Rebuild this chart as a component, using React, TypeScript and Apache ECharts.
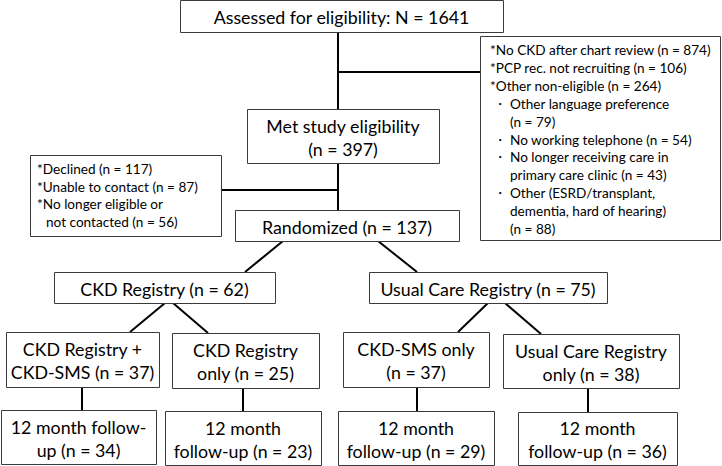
import React, { useEffect, useRef } from "react";
import * as echarts from "echarts";

// ---------- data ----------
const boxCounts = [1641, 397, 137, 62, 75, 37, 25, 37, 38, 34, 23, 29, 36];
const boxLabels = [
  "Assessed for eligibility: N = {n}",
  "Met study eligibility\n(n = {n})",
  "Randomized (n = {n})",
  "CKD Registry (n = {n})",
  "Usual Care Registry (n = {n})",
  "CKD Registry +\nCKD-SMS (n = {n})",
  "CKD Registry\nonly (n = {n})",
  "CKD-SMS only\n(n = {n})",
  "Usual Care Registry\nonly (n = {n})",
  "12 month follow-\nup (n = {n})",
  "12 month\nfollow-up (n = {n})",
  "12 month\nfollow-up (n = {n})",
  "12 month\nfollow-up (n = {n})",
];

// screening exclusions (right box)
const screenLines = [
  "*No CKD after chart review (n = 874)",
  "*PCP rec. not recruiting (n = 106)",
  "*Other non-eligible (n = 264)",
];
const otherNonEligibleLines = [
  ["Other language preference", "(n = 79)"],
  ["No working telephone (n = 54)"],
  ["No longer receiving care in", "primary care clinic (n = 43)"],
  ["Other (ESRD/transplant,", "dementia, hard of hearing)", "(n = 88)"],
];
// randomization exclusions (left box)
const declinedLines = [
  "*Declined (n = 117)",
  "*Unable to contact (n = 87)",
  "*No longer eligible or",
  " not contacted (n = 56)",
];

// ---------- layout ----------
const boxRects: number[][] = [
  [180, 0, 323, 32],
  [247, 109, 192, 54],
  [235, 210, 224, 31],
  [54, 272, 221, 31],
  [369, 272, 238, 31],
  [6, 332, 153, 55],
  [172, 333, 147, 55],
  [343, 332, 146, 55],
  [503, 334, 176, 54],
  [1, 410, 155, 54],
  [165, 411, 156, 54],
  [338, 411, 156, 54],
  [518, 412, 159, 53],
];
const connectors: number[][][] = [
  [[338, 32], [338, 109]],
  [[338, 72], [480, 72]],
  [[338, 163], [338, 210]],
  [[221, 190], [338, 190]],
  [[283, 241], [245, 272]],
  [[378, 241], [417, 272]],
  [[165, 303], [130, 332]],
  [[173, 303], [208, 333]],
  [[488, 303], [458, 332]],
  [[505, 303], [541, 334]],
  [[82, 387], [82, 410]],
  [[243, 388], [243, 411]],
  [[417, 387], [417, 411]],
  [[588, 388], [588, 412]],
];
const rightBox = [480, 36, 240, 204];
const leftBox = [30, 155, 191, 81];

const FONT = "Lato";
const MAIN_SIZE = 17.8;
const SIDE_SIZE = 13.6;

function buildGraphic() {
  const els: any[] = [];
  connectors.forEach((pts) => {
    els.push({
      type: "polyline",
      shape: { points: pts },
      style: { stroke: "#000", lineWidth: 2, fill: null },
      z: 1,
    });
  });
  const rect = (r: number[]) => ({
    type: "rect",
    shape: { x: r[0] + 0.5, y: r[1] + 0.5, width: r[2], height: r[3] },
    style: { fill: "#fff", stroke: "#3a3a3a", lineWidth: 1 },
    z: 2,
  });
  boxRects.forEach((r, i) => {
    els.push(rect(r));
    els.push({
      type: "text",
      x: r[0] + r[2] / 2,
      y: r[1] + r[3] / 2 + 1,
      z: 3,
      style: {
        text: boxLabels[i].replace("{n}", String(boxCounts[i])),
        fill: "#000",
        fontFamily: FONT,
        fontSize: MAIN_SIZE,
        lineHeight: 23,
        align: "center",
        verticalAlign: "middle",
        textAlign: "center",
        textVerticalAlign: "middle",
      },
    });
  });
  // right box
  els.push(rect(rightBox));
  const sideText = (t: string, x: number, y: number) => ({
    type: "text",
    x,
    y,
    z: 3,
    style: {
      text: t,
      fill: "#000",
      fontFamily: FONT,
      fontSize: SIDE_SIZE,
      align: "left",
      verticalAlign: "middle",
      textAlign: "left",
      textVerticalAlign: "middle",
    },
  });
  let y = 50;
  const step = 17.9;
  screenLines.forEach((t) => {
    els.push(sideText(t, 490, y));
    y += step;
  });
  otherNonEligibleLines.forEach((grp) => {
    grp.forEach((t, j) => {
      if (j === 0) els.push(sideText("・", 493, y));
      els.push(sideText(t, 510, y));
      y += step;
    });
  });
  // left box
  els.push(rect(leftBox));
  let y2 = 169;
  declinedLines.forEach((t) => {
    const indent = t.startsWith(" ") ? 46 : 37;
    els.push(sideText(t.trim(), indent, y2));
    y2 += 17.6;
  });
  return els;
}

export default function App() {
  const ref = useRef<HTMLDivElement>(null);
  useEffect(() => {
    if (!ref.current) return;
    const chart = echarts.init(ref.current, undefined, { renderer: "svg" });
    chart.setOption({
      animation: false,
      backgroundColor: "#fff",
      graphic: { elements: buildGraphic() },
    });
    return () => chart.dispose();
  }, []);
  return (
    <div
      ref={ref}
      style={{ position: "fixed", left: 0, top: 0, width: 722, height: 466 }}
    />
  );
}
